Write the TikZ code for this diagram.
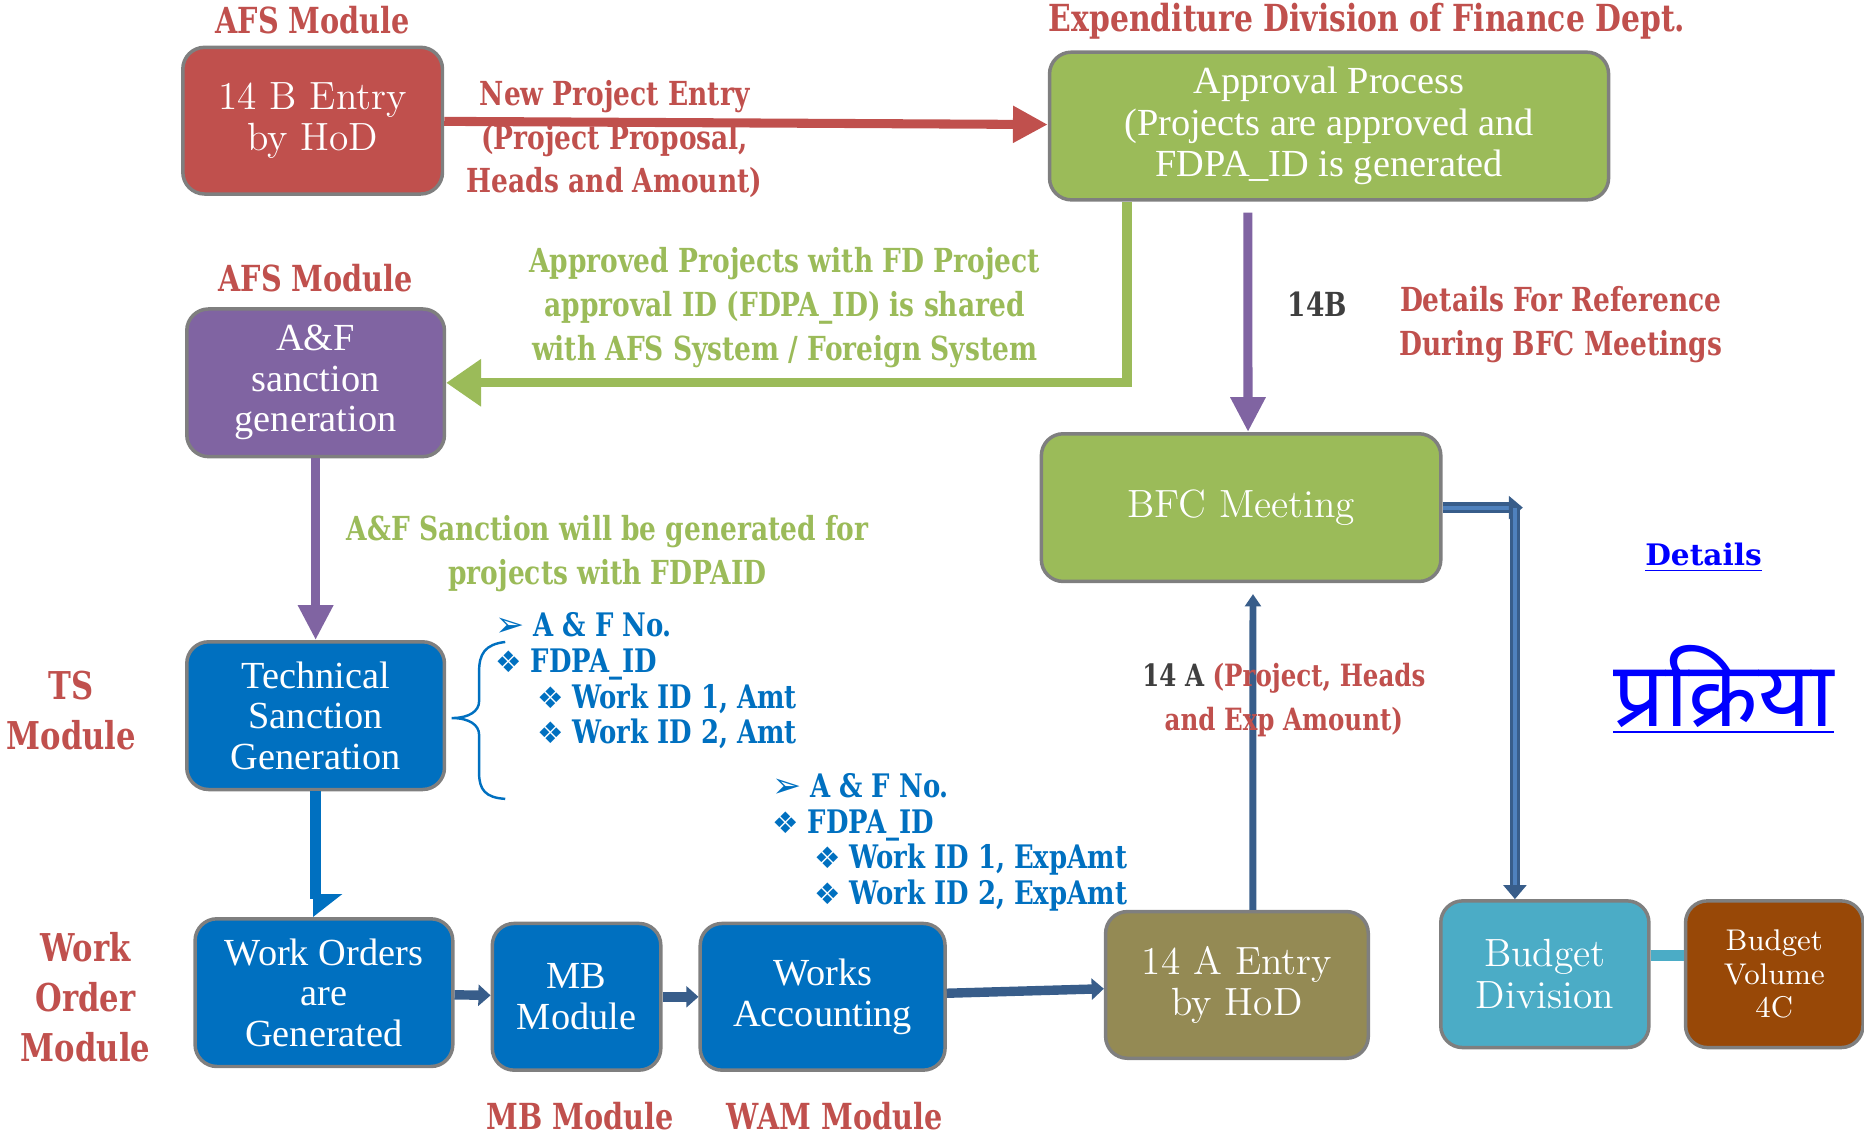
\documentclass[tikz,border=0pt]{standalone}
\usepackage{fontspec}
\usetikzlibrary{positioning, arrows.meta}

\newfontfamily\boxfont{Liberation Serif}
\newfontfamily\lblfont[FakeStretch=0.8]{DejaVu Serif}
\newfontfamily\linkfont{DejaVu Serif}
\newfontfamily\symfont{DejaVu Sans}
\newfontfamily\devfont[Script=Devanagari]{Noto Sans}

\definecolor{redc}{HTML}{C0504D}
\definecolor{greenc}{HTML}{9BBB59}
\definecolor{purplec}{HTML}{8064A2}
\definecolor{bluec}{HTML}{0070C0}
\definecolor{navyc}{HTML}{385D8A}
\definecolor{navylight}{HTML}{4F81BD}
\definecolor{olivec}{HTML}{948A54}
\definecolor{cyanc}{HTML}{4BACC6}
\definecolor{brownc}{HTML}{984807}
\definecolor{borderc}{HTML}{7F7F7F}
\definecolor{darktext}{HTML}{3F3F3F}
\definecolor{linkc}{HTML}{0000FF}

\newcommand{\arrbul}{{\symfont\fontsize{10}{10}\selectfont ➢}}
\newcommand{\diabul}{{\symfont\fontsize{8.5}{8.5}\selectfont ❖}}

\begin{document}
\begin{tikzpicture}
    [
        x=0.012cm, y=-0.012cm,
        box/.style={rectangle, rounded corners=2.2mm, draw=borderc, line width=1pt, text=white, align=center, inner sep=1pt},
        slim_box/.style={box, font=\boxfont\fontsize{11}{11.6}\selectfont},
        wide_box/.style={box, font=\fontsize{11.3}{12}\selectfont},
        red_label/.style={font=\lblfont\bfseries\fontsize{9.5}{12.6}\selectfont, text=redc, align=center, inner sep=0pt},
        module_label/.style={red_label, font=\lblfont\bfseries\fontsize{10.3}{12.6}\selectfont},
        green_label/.style={red_label, text=greenc},
        big_label/.style={red_label, font=\lblfont\bfseries\fontsize{11}{14.3}\selectfont},
        list_text/.style={font=\lblfont\bfseries\fontsize{9.3}{10.2}\selectfont, text=bluec, align=left, inner sep=0pt},
        red_arrow/.style={draw=redc, line width=2.6pt, -{Triangle[length=10pt, width=10pt]}},
        green_arrow/.style={draw=greenc, line width=2.7pt, -{Triangle[length=10pt, width=13pt]}},
        purple_arrow/.style={draw=purplec, line width=2.6pt, -{Triangle[length=10pt, width=9.5pt]}},
        blue_arrow/.style={draw=bluec, line width=3pt, -{Triangle[length=6pt, width=15pt, left]}},
        navy_arrow/.style={draw=navyc, line width=2.7pt, -{Triangle[length=3.5pt, width=6pt]}},
        navy_thin_arrow/.style={draw=navyc, line width=2pt, -{Triangle[length=3.5pt, width=4.5pt]}},
        dbl_arrow/.style={draw=navyc, double=navylight, line width=0.9pt, double distance=1.2pt, -{Triangle[length=4pt, width=6.5pt]}},
        cyan_link/.style={draw=cyanc, line width=3.2pt},
    ]
        \useasboundingbox (0,0) rectangle (1568,954);

        % boxes
        \node[wide_box, fill=redc, minimum width=2.62cm, minimum height=1.48cm] (hod14b) at (263,101.5) {14 B Entry\\by HoD};
        \node[slim_box, fill=greenc, font=\boxfont\fontsize{11}{12}\selectfont, minimum width=5.64cm, minimum height=1.49cm] (approval) at (1118,106) {Approval Process\\(Projects are approved and\\FDPA\_ID is generated};
        \node[slim_box, fill=purplec, minimum width=2.6cm, minimum height=1.49cm] (afsanc) at (265.5,322) {A\&F\\sanction\\generation};
        \node[slim_box, fill=bluec, minimum width=2.6cm, minimum height=1.49cm] (tsgen) at (265.5,602) {Technical\\Sanction\\Generation};
        \node[slim_box, fill=bluec, minimum width=2.6cm, minimum height=1.49cm] (workord) at (272.5,835) {Work Orders\\are\\Generated};
        \node[slim_box, fill=bluec, minimum width=1.7cm, minimum height=1.48cm] (mbmod) at (485,838.5) {MB\\Module};
        \node[slim_box, fill=bluec, minimum width=2.47cm, minimum height=1.48cm] (worksacc) at (692,838.5) {Works\\Accounting};
        \node[wide_box, fill=olivec, minimum width=2.65cm, minimum height=1.48cm] (hod14a) at (1040.5,828.5) {14 A Entry\\by HoD};
        \node[wide_box, fill=greenc, minimum width=4.03cm, minimum height=1.49cm] (bfc) at (1044,427) {BFC Meeting};
        \node[wide_box, fill=cyanc, minimum width=2.1cm, minimum height=1.48cm] (budget) at (1299.5,819.5) {Budget\\Division};
        \node[wide_box, fill=brownc, font=\fontsize{8.6}{9.6}\selectfont, minimum width=1.79cm, minimum height=1.48cm] (budvol) at (1492.5,819.5) {Budget\\Volume\\4C};

        % module labels
        \node[module_label] (afslbl) [above = 0.11cm of hod14b] {AFS Module};
        \node[module_label] (afslbl2) [above = 0.15cm of afsanc] {AFS Module};
        \node[module_label, font=\lblfont\bfseries\fontsize{10.7}{12.6}\selectfont] (expdiv) at (1150,18) {Expenditure Division of Finance Dept.};
        \node[big_label] (tslbl) at (60,598) {TS\\Module};
        \node[big_label] (wolbl) at (72,839) {Work\\Order\\Module};
        \node[module_label] (mblbl) at (488,939) {MB Module};
        \node[module_label] (wamlbl) at (702,939) {WAM Module};

        % connectors
        \draw[red_arrow] (hod14b) -- (approval);
        \draw[green_arrow] ([xshift=0.8cm]approval.south west) |- (afsanc.east);
        \draw[purple_arrow] ([xshift=-0.82cm, yshift=-0.11cm]approval.south) -- ([xshift=0.07cm]bfc.north);
        \draw[purple_arrow] (afsanc.south) -- (tsgen.north);
        \draw[blue_arrow] (tsgen.south) -- (tsgen.south |- workord.north);
        \draw[navy_arrow] (workord) -- (mbmod);
        \draw[navy_arrow] (mbmod) -- (worksacc);
        \draw[navy_arrow] (worksacc) -- (hod14a);
        \draw[navy_thin_arrow] ([xshift=0.16cm]hod14a.north) -- ([xshift=0.12cm, yshift=-0.11cm]bfc.south);
        \coordinate (bfcturn) at ([xshift=0.73cm]bfc.east);
        \draw[dbl_arrow] (bfc.east) -- ([xshift=0.08cm]bfcturn);
        \draw[dbl_arrow] (bfcturn) -- (bfcturn |- budget.north);
        \draw[cyan_link] ([yshift=0.19cm]budget.east) -- ([yshift=0.19cm]budvol.west);

        % edge texts
        \node[red_label] (newproj) at (517,117) {New Project Entry\\(Project Proposal,\\Heads and Amount)};
        \node[green_label] (sharedtxt) at (660,259) {Approved Projects with FD Project\\approval ID (FDPA\_ID) is shared\\with AFS System / Foreign System};
        \node[green_label] (sanctxt) at (511,466) {A\&F Sanction will be generated for\\projects with FDPAID};
        \node[red_label, text=darktext] (b14lbl) at (1108,256) {14B};
        \node[red_label] (reftxt) at (1313,273) {Details For Reference\\During BFC Meetings};
        \node[red_label, font=\lblfont\bfseries\fontsize{8.8}{12.6}\selectfont] (a14lbl) at (1080,589) {{\color{darktext}14 A} (Project, Heads\\and Exp Amount)};

        % detail lists
        \draw[bluec, line width=0.7pt] (425,540) .. controls (408,542) and (403,550) .. (403,565) -- (403,590) .. controls (403,598) and (395,604) .. (380,604) .. controls (395,604) and (403,610) .. (403,618) -- (403,650) .. controls (403,664) and (408,671) .. (425,672);
        \node[list_text, anchor=north west] (amtlist) at (416,515) {\arrbul\ A \& F No.\\\diabul\ FDPA\_ID\\\hspace*{12pt}\diabul\ Work ID 1, Amt\\\hspace*{12pt}\diabul\ Work ID 2, Amt};
        \node[list_text, anchor=north west] (expamtlist) at (649,650) {\arrbul\ A \& F No.\\\diabul\ FDPA\_ID\\\hspace*{12pt}\diabul\ Work ID 1, ExpAmt\\\hspace*{12pt}\diabul\ Work ID 2, ExpAmt};

        % links
        \node[text=linkc, font=\linkfont\bfseries\fontsize{8.5}{10}\selectfont] (details) at (1433,469) {\underline{Details}};
        \node[text=linkc, font=\devfont\bfseries\fontsize{26}{30}\selectfont] (prakriya) at (1450,580) {\underline{प्रक्रिया}};
    \end{tikzpicture}
\end{document}
